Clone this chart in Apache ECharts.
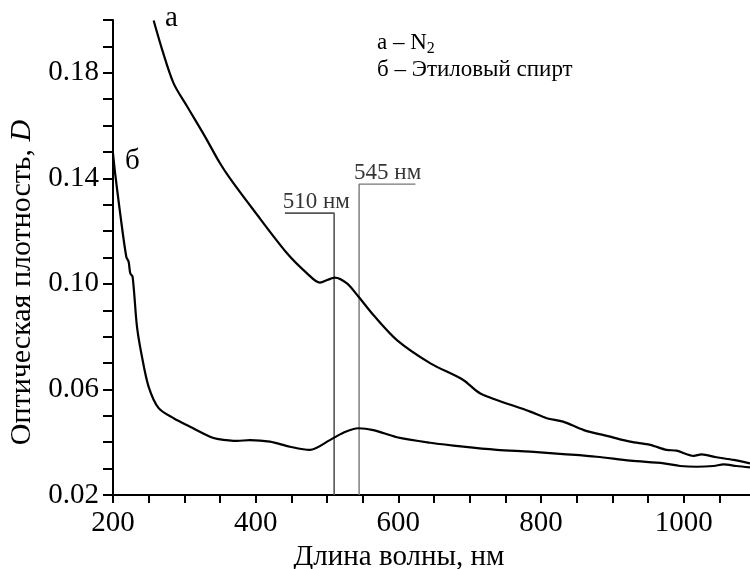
<!DOCTYPE html>
<html>
<head>
<meta charset="utf-8">
<script src="https://cdn.jsdelivr.net/npm/echarts@6/dist/echarts.min.js"></script>
<style>
  html, body { margin: 0; padding: 0; background: #fff; }
  #main { width: 750px; height: 569px; }
</style>
</head>
<body>
<div id="main"></div>
<script>
// кривая а - N2 : [длина волны, D]
var curveN2 = [
  [257, 0.1998], [269, 0.1887], [285, 0.1760], [304, 0.1672], [329, 0.1558],
  [350, 0.1457], [364, 0.1400], [397, 0.1280], [444, 0.1116], [472, 0.1040],
  [490, 0.1005], [511, 0.1024], [528, 0.1002], [544, 0.0952], [565, 0.0882],
  [598, 0.0787], [645, 0.0699], [691, 0.0636], [715, 0.0585], [785, 0.0516],
  [808, 0.0491], [831, 0.0478], [860, 0.0446], [897, 0.0421], [925, 0.0402],
  [953, 0.0390], [976, 0.0371], [990, 0.0368], [1014, 0.0348], [1025, 0.0354],
  [1046, 0.0343], [1070, 0.0333], [1093, 0.0320]
];
// кривая б - этиловый спирт
var curveEthanol = [
  [200, 0.1495], [203, 0.1419], [210, 0.1268], [218.6, 0.1103], [221.9, 0.1084],
  [224.2, 0.1040], [227.5, 0.1027], [233.6, 0.0838], [240.6, 0.0724], [250, 0.0610],
  [264, 0.0529], [285, 0.0491], [308, 0.0459], [336, 0.0421], [346, 0.0413],
  [374, 0.0405], [392, 0.0408], [420, 0.0402], [448, 0.0383], [476, 0.0371],
  [504, 0.0408], [523, 0.0436], [544, 0.0453], [565, 0.0446], [598, 0.0419],
  [645, 0.0398], [691, 0.0383], [738, 0.0371], [785, 0.0364], [831, 0.0355],
  [878, 0.0345], [925, 0.0330], [972, 0.0320], [995, 0.0310], [1018, 0.0307],
  [1042, 0.0310], [1056, 0.0316], [1074, 0.0310], [1093, 0.0305]
];
// отметки максимумов
var mark510 = [[441, 0.1268], [510, 0.1268], [510, 0.02]];
var mark545 = [[624, 0.1378], [545, 0.1378], [545, 0.02]];
var markLabels = [[485, 0.1268, '510 нм'], [585, 0.1378, '545 нм']];
var xLabels = [200, 400, 600, 800, 1000];
var yLabels = [0.02, 0.06, 0.10, 0.14, 0.18];

var font = 'Liberation Serif';
var myChart = echarts.init(document.getElementById('main'));

var option = {
  animation: false,
  backgroundColor: '#fff',
  textStyle: { fontFamily: font },
  grid: { left: 113, right: -5, top: 20, bottom: 74, outerBoundsMode: 'none', containLabel: false },
  xAxis: {
    type: 'value',
    min: 200, max: 1100, interval: 50,
    name: 'Длина волны, нм',
    nameLocation: 'middle',
    nameGap: 28,
    nameTextStyle: { fontFamily: font, fontSize: 29, color: '#000', padding: [0, 70, 0, 0] },
    axisLine: { show: true, lineStyle: { color: '#000', width: 2 } },
    axisTick: { show: true, length: 8, lineStyle: { color: '#000', width: 2 } },
    axisLabel: {
      fontFamily: font, fontSize: 29, color: '#000', margin: 14,
      formatter: function (v) { return xLabels.indexOf(Math.round(v)) >= 0 ? String(Math.round(v)) : ''; }
    },
    splitLine: { show: false }
  },
  yAxis: {
    type: 'value',
    min: 0.02, max: 0.20, interval: 0.01,
    name: '{n|Оптическая плотность, }{i|D}',
    nameLocation: 'middle',
    nameGap: 76,
    nameTextStyle: {
      padding: [0, 50, 0, 0],
      rich: {
        n: { fontFamily: font, fontSize: 30, color: '#000' },
        i: { fontFamily: font, fontSize: 30, color: '#000', fontStyle: 'italic' }
      }
    },
    axisLine: { show: true, lineStyle: { color: '#000', width: 2 } },
    axisTick: { show: true, length: 10, lineStyle: { color: '#000', width: 2 } },
    axisLabel: {
      fontFamily: font, fontSize: 29, color: '#000', margin: 14,
      formatter: function (v) {
        var r = Math.round(v * 100);
        for (var i = 0; i < yLabels.length; i++) {
          if (Math.round(yLabels[i] * 100) === r) return yLabels[i].toFixed(2);
        }
        return '';
      }
    },
    splitLine: { show: false }
  },
  graphic: [
    { type: 'text', left: 165, top: 4, style: { text: 'а', font: '29px "Liberation Serif"', fill: '#000' } },
    { type: 'text', left: 125, top: 147, style: { text: 'б', font: '29px "Liberation Serif"', fill: '#000' } },
    {
      type: 'text', left: 377, top: 31,
      style: {
        text: '{t|а – N}{s|2}',
        rich: {
          t: { fontFamily: font, fontSize: 23, fill: '#000', color: '#000' },
          s: { fontFamily: font, fontSize: 16, fill: '#000', color: '#000', padding: [12, 0, 0, 0] }
        }
      }
    },
    { type: 'text', left: 377, top: 58, style: { text: 'б – Этиловый спирт', font: '23px "Liberation Serif"', fill: '#000' } }
  ],
  series: [
    {
      name: 'а', type: 'line', data: curveN2, smooth: 0.3, symbol: 'none',
      lineStyle: { color: '#000', width: 2.2 }, z: 3
    },
    {
      name: 'б', type: 'line', data: curveEthanol, smooth: 0.3, symbol: 'none',
      lineStyle: { color: '#000', width: 2.2 }, z: 3
    },
    {
      name: '510', type: 'line', data: mark510, symbol: 'none',
      lineStyle: { color: '#555', width: 1.6 }, z: 2
    },
    {
      name: '545', type: 'line', data: mark545, symbol: 'none',
      lineStyle: { color: '#777', width: 1.4 }, z: 2
    },
    {
      name: 'labels', type: 'scatter', data: markLabels, symbolSize: 0,
      label: {
        show: true, position: 'top', distance: 0,
        fontFamily: font, fontSize: 23, color: '#000',
        formatter: function (p) { return p.data[2]; }
      }
    }
  ]
};
myChart.setOption(option);
</script>
</body>
</html>
